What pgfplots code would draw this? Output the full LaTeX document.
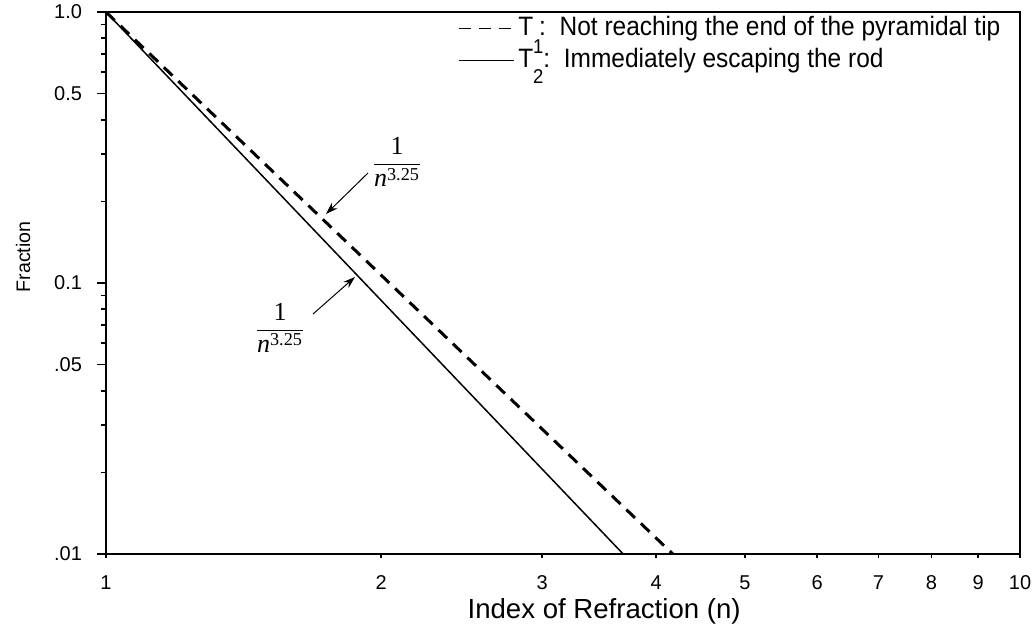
\documentclass[border=0pt]{standalone}
\usepackage{pgfplots}
\pgfplotsset{compat=1.18}
\usepackage{amsmath}
\usepackage{fontspec}
\setmainfont{Liberation Sans}
\newfontfamily\narrowsans{Liberation Sans}[FakeStretch=0.92]
\newfontfamily\tms{Liberation Serif}
\usetikzlibrary{arrows.meta}

% annotation: 1 over n^3.25, set in a Times-like face
\newcommand{\powfrac}{$\displaystyle\frac{\text{\tms 1}}{\text{\tms\itshape n}^{\text{\tms 3.25}}}$}

\begin{document}
\begin{tikzpicture}
\useasboundingbox (-53pt,-37pt) rectangle (463pt,277pt);
\begin{axis}[
    scale only axis,
    width            = 457pt,
    height           = 271pt,
    xmode            = log,
    ymode            = log,
    xmin = 1, xmax = 10,
    ymin = 0.01, ymax = 1,
    axis line style  = {line width=1pt},
    tick align       = outside,
    xtick pos        = left,
    ytick pos        = left,
    major tick length = 4.5pt,
    minor tick length = 2.5pt,
    xtick            = {1,2,3,4,5,6,7,8,9,10},
    xticklabels      = {1,2,3,4,5,6,7,8,9,10},
    minor xtick      = {},
    ytick            = {0.01,0.05,0.1,0.5,1},
    yticklabels      = {.01,.05,0.1,0.5,1.0},
    minor ytick      = {0.02,0.03,0.04,0.06,0.07,0.08,0.09,0.2,0.3,0.4,0.6,0.7,0.8,0.9},
    every tick/.style = {black, line width=0.8pt},
    xtick style      = {/pgfplots/major tick length=2pt},
    /pgf/number format/assume math mode = true,
    ticklabel style  = {font=\fontsize{10}{12}\selectfont},
    xticklabel style = {yshift=-3pt},
    yticklabel style = {xshift=-4pt},
    xlabel           = {Index of Refraction (n)},
    ylabel           = {Fraction},
    xlabel style     = {font=\fontsize{13.8}{16}\selectfont, at={(axis description cs:0.545,0)}, anchor=center, yshift=-28.5pt},
    ylabel style     = {font=\fontsize{9.8}{12}\selectfont, at={(axis description cs:-0.0908,0.548)}, anchor=center},
    legend cell align = left,
    legend style     = {at={(rel axis cs:0.385,0.995)}, anchor=north west, draw=none, fill=none,
                        font=\narrowsans\fontsize{13.3}{16}\selectfont, inner sep=0pt, row sep=3pt,
                        column sep=2pt,
                        nodes={inner sep=0pt, text height=10pt, text depth=3pt}},
    legend image code/.code = {\draw[#1, line width=0.5pt] (0pt,0pt) -- (27.5pt,0pt);},
]

% dashed line
\addplot[black, line width=1.5pt, dash pattern=on 6pt off 4pt] coordinates {
    (1,1)
    (4.17,0.01)
};
\addlegendentry{T\hspace{3pt}:\ \ Not reaching the end of the pyramidal tip}

% solid line
\addplot[black, line width=0.75pt] coordinates {
    (1,1)
    (3.68,0.01)
};
\addlegendentry{T\makebox[0pt][l]{\smash{\raisebox{7pt}{\fontsize{10}{10}\selectfont 1}}}\smash{\raisebox{-8pt}{\fontsize{10}{10}\selectfont 2}}:\ \ Immediately escaping the rod}

% annotations
\node[font=\fontsize{13}{15}\selectfont] at (rel axis cs:0.3184,0.7232) {\powfrac};
\draw[line width=0.5pt, -{Stealth[length=6pt,width=4pt]}] (rel axis cs:0.2867,0.703) -- (rel axis cs:0.2407,0.6273);
\node[font=\fontsize{13}{15}\selectfont] at (rel axis cs:0.1904,0.417) {\powfrac};
\draw[line width=0.5pt, -{Stealth[length=6pt,width=4pt]}] (rel axis cs:0.2265,0.4428) -- (rel axis cs:0.2724,0.5111);
\end{axis}
\end{tikzpicture}
\end{document}
